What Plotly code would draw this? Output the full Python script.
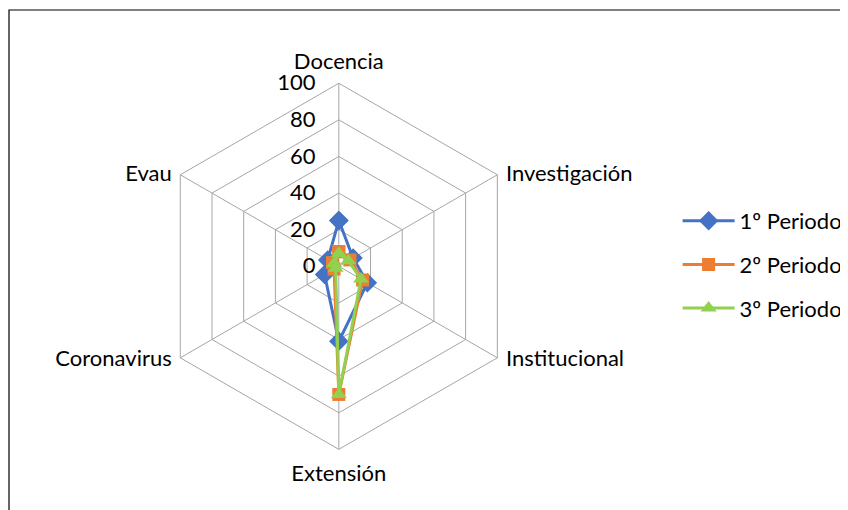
import plotly.graph_objects as go

categories = ["Docencia", "Investigación", "Institucional", "Extensión", "Coronavirus", "Evau"]
series_names = ["1º Periodo", "2º Periodo", "3º Periodo"]
periodo1 = [25, 9, 18, 41, 9, 7]
periodo2 = [8, 7, 15, 70, 3, 4]
periodo3 = [7, 6, 14, 70, 2, 3]
radial_ticks = [0, 20, 40, 60, 80, 100]

colors = ["#4472C4", "#ED7D31", "#92D050"]
symbols = ["diamond", "square", "triangle-up"]
sizes = [15, 13, 14]

OFF = 8  # default page body margin
W, H = 848 - OFF, 510 - OFF
cx, cy, R = 340 - OFF, 266.3 - OFF, 183.7

# label tweaks: tiny blank lines to nudge side labels level with the vertices
blank = "<span style='font-size:2px'> </span>"
cat_text = {
    "Docencia": "Docencia",
    "Investigación": blank + "<br>Investigación",
    "Institucional": "Institucional<br>" + blank + "<br>" + blank,
    "Extensión": "Extensión",
    "Coronavirus": "Coronavirus<br>" + blank + "<br>" + blank,
    "Evau": blank + "<br>Evau",
}

fig = go.Figure()
for i, (name, vals, c, s, sz) in enumerate(zip(series_names, [periodo1, periodo2, periodo3], colors, symbols, sizes)):
    fig.add_trace(go.Scatterpolar(
        r=vals + vals[:1],
        theta=categories + categories[:1],
        mode="lines+markers",
        name=name,
        legendgroup=f"g{i}",
        line=dict(color=c, width=3),
        marker=dict(symbol=s, size=sz, color=c),
    ))

grid = "#A6A6A6"
FONT = "Lato"
fig.update_layout(
    width=W, height=H,
    margin=dict(l=0, r=0, t=0, b=0),
    paper_bgcolor="white",
    font=dict(family=FONT, size=22, color="#000000"),
    polar=dict(
        domain=dict(x=[(cx - R) / W, (cx + R) / W], y=[(H - cy - R) / H, (H - cy + R) / H]),
        bgcolor="white",
        gridshape="linear",
        radialaxis=dict(
            range=[0, 100], tickvals=radial_ticks, ticktext=[str(v) for v in radial_ticks],
            angle=90, tickangle=90, side="counterclockwise",
            showline=False, ticks="outside", ticklen=15, tickcolor="rgba(0,0,0,0)",
            gridcolor=grid, gridwidth=1,
            tickfont=dict(size=22, family=FONT, color="#000000"),
        ),
        angularaxis=dict(
            rotation=90, direction="clockwise",
            tickvals=categories, ticktext=[cat_text[c] for c in categories],
            showline=True, linecolor=grid, linewidth=1,
            gridcolor=grid, gridwidth=1,
            ticks="outside", ticklen=5, tickcolor="rgba(0,0,0,0)",
            tickfont=dict(size=22, family=FONT, color="#000000"),
        ),
    ),
    legend=dict(
        x=(680 - OFF) / W, y=(H - (200 - OFF)) / H, xanchor="left", yanchor="top",
        font=dict(size=22, family=FONT, color="#000000"),
        itemwidth=52, tracegroupgap=12,
        bgcolor="rgba(0,0,0,0)",
    ),
    shapes=[dict(type="rect", xref="paper", yref="paper",
                 x0=1 / W, x1=1.05, y0=-0.05, y1=1 - (10 - OFF) / H,
                 line=dict(color="#000000", width=1.2), fillcolor="rgba(0,0,0,0)")],
)

fig.write_html("out.html")
